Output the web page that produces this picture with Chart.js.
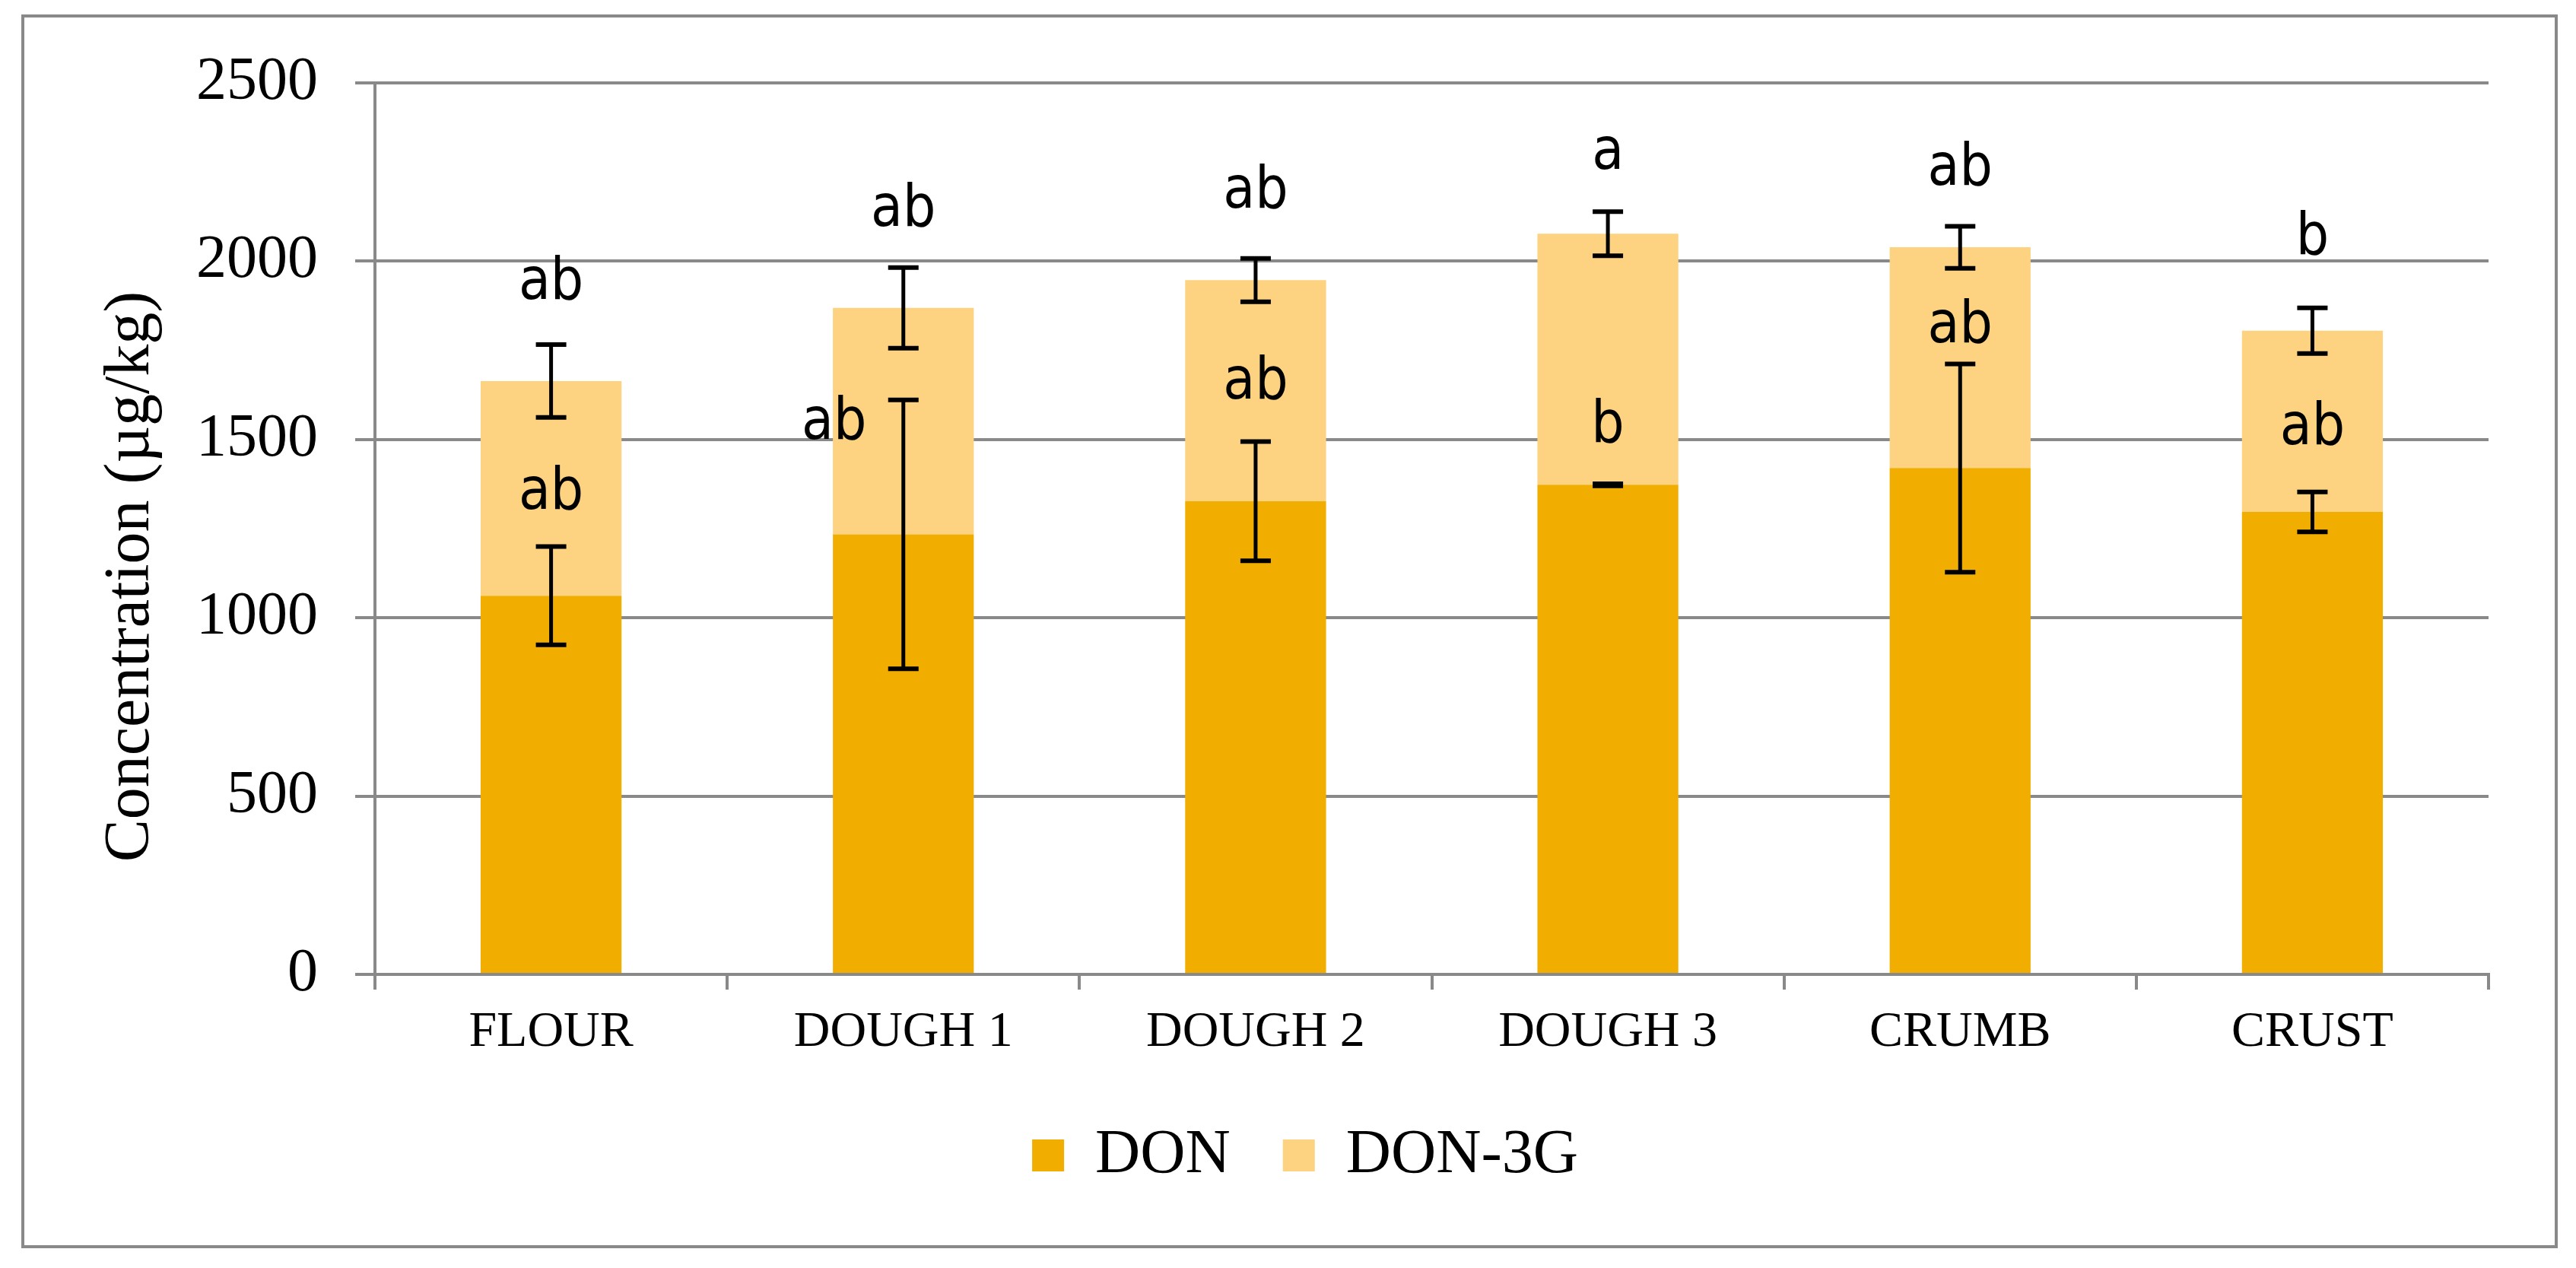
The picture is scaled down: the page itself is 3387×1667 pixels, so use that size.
<!DOCTYPE html>
<html>
<head>
<meta charset="utf-8">
<script src="https://cdn.jsdelivr.net/npm/chart.js@4.4.1/dist/chart.umd.min.js"></script>
<style>
  html, body { margin: 0; padding: 0; background: #fff; }
  #wrap { position: relative; width: 3387px; height: 1667px; }
  #myChart { display: block; }
  #frame { position: absolute; left: 28px; top: 19px; width: 3335px; height: 1622px;
           box-sizing: border-box; border: 4px solid #898989; pointer-events: none; }
</style>
</head>
<body>
<div id="wrap">
  <canvas id="myChart" width="3387" height="1667"></canvas>
  <div id="frame"></div>
</div>
<script>
// Categories and values
const categories = ['FLOUR', 'DOUGH 1', 'DOUGH 2', 'DOUGH 3', 'CRUMB', 'CRUST'];
const donValues = [1062, 1234, 1327, 1373, 1420, 1297];
const don3gValues = [602, 635, 620, 704, 619, 508];   // stacked on top of DON
const donErrors = [138, 377, 167, 3, 292, 56];
const totalErrors = [102, 113, 61, 62, 59, 64];
const yTicks = [0, 500, 1000, 1500, 2000, 2500];

// Significance letters and the value where each sits (baseline)
const donLetters = ['ab', 'ab', 'ab', 'b', 'ab', 'ab'];
const donLetterAt = [1306, 1501, 1614, 1493, 1772, 1486];
const topLetters = ['ab', 'ab', 'ab', 'a', 'ab', 'b'];
const topLetterAt = [1894, 2100, 2151, 2260, 2215, 2020];

const serif = "'Liberation Serif', 'Times New Roman', serif";
const narrow = "'Liberation Sans Narrow', 'DejaVu Sans Condensed', 'Open Sans', sans-serif";
const gray = '#898989';

// error bars at the top of each stacked segment
const errorBars = {
    id: 'errorBars',
    afterDatasetsDraw(chart) {
        const ctx = chart.ctx;
        const yScale = chart.scales.y;
        ctx.save();
        ctx.strokeStyle = '#000';
        chart.data.datasets.forEach((ds, di) => {
            chart.getDatasetMeta(di).data.forEach((bar, i) => {
                let top = 0;
                for (let k = 0; k <= di; k++) top += chart.data.datasets[k].data[i];
                const hi = yScale.getPixelForValue(top + ds.errors[i]);
                const lo = yScale.getPixelForValue(top - ds.errors[i]);
                ctx.lineWidth = 5;
                ctx.beginPath();
                ctx.moveTo(bar.x, hi);
                ctx.lineTo(bar.x, lo);
                ctx.stroke();
                ctx.lineWidth = 6;
                ctx.beginPath();
                ctx.moveTo(bar.x - 20, hi); ctx.lineTo(bar.x + 20, hi);
                ctx.moveTo(bar.x - 20, lo); ctx.lineTo(bar.x + 20, lo);
                ctx.stroke();
            });
        });
        ctx.restore();
    }
};

// letters above / inside the bars
const letterLabels = {
    id: 'letterLabels',
    afterDraw(chart, args, opts) {
        const ctx = chart.ctx;
        const yScale = chart.scales.y;
        ctx.save();
        ctx.fillStyle = '#000';
        ctx.font = '76px ' + narrow;
        ctx.textAlign = 'center';
        ctx.textBaseline = 'alphabetic';
        chart.data.datasets.forEach((ds, di) => {
            chart.getDatasetMeta(di).data.forEach((bar, i) => {
                const shift = (opts.shift[di] && opts.shift[di][i]) || 0;
                ctx.fillText(ds.letters[i], bar.x + shift, yScale.getPixelForValue(ds.letterAt[i]));
            });
        });
        ctx.restore();
    }
};

const config = {
    type: 'bar',
    data: {
        labels: categories,
        datasets: [{
            label: 'DON',
            data: donValues,
            errors: donErrors,
            letters: donLetters,
            letterAt: donLetterAt,
            backgroundColor: '#f2ae00',
            borderWidth: 0
        }, {
            label: 'DON-3G',
            data: don3gValues,
            errors: totalErrors,
            letters: topLetters,
            letterAt: topLetterAt,
            backgroundColor: '#fdd280',
            borderWidth: 0
        }]
    },
    options: {
        responsive: false,
        animation: false,
        devicePixelRatio: 1,
        barPercentage: 0.4,
        categoryPercentage: 1.0,
        layout: { padding: { left: 160, right: 115, top: 109, bottom: 97 } },
        scales: {
            x: {
                stacked: true,
                grid: { display: true, drawOnChartArea: false, drawTicks: true, tickLength: 20,
                        offset: true, color: gray, lineWidth: 4 },
                border: { color: gray, width: 4 },
                ticks: { padding: 17, color: '#000', maxRotation: 0, font: { family: serif, size: 66 } },
                afterFit(scale) { scale.height = 128; }
            },
            y: {
                stacked: true,
                min: yTicks[0],
                max: yTicks[yTicks.length - 1],
                afterBuildTicks(scale) { scale.ticks = yTicks.map(v => ({ value: v })); },
                grid: { color: gray, lineWidth: 4, tickLength: 26 },
                border: { color: gray, width: 4 },
                ticks: { padding: 49, color: '#000', font: { family: serif, size: 80 },
                         callback: v => String(v) },
                title: {
                    display: true,
                    // trailing no-break spaces move the centred title down a little, as in the original
                    text: 'Concentration (\u00B5g/kg)\u00A0\u00A0\u00A0\u00A0\u00A0\u00A0',
                    color: '#000',
                    padding: 0,
                    font: { family: serif, size: 84, lineHeight: 0.3 }
                },
                afterFit(scale) { scale.width = 333; }
            }
        },
        plugins: {
            legend: {
                position: 'bottom',
                labels: { boxWidth: 42, boxHeight: 42, padding: 69, color: '#000',
                          font: { family: serif, size: 82 } }
            },
            tooltip: { enabled: false },
            letterLabels: { shift: [[0, -91, 0, 0, 0, 0], []] }
        }
    },
    plugins: [errorBars, letterLabels]
};

const ctx = document.getElementById('myChart').getContext('2d');
const myChart = new Chart(ctx, config);
</script>
</body>
</html>
